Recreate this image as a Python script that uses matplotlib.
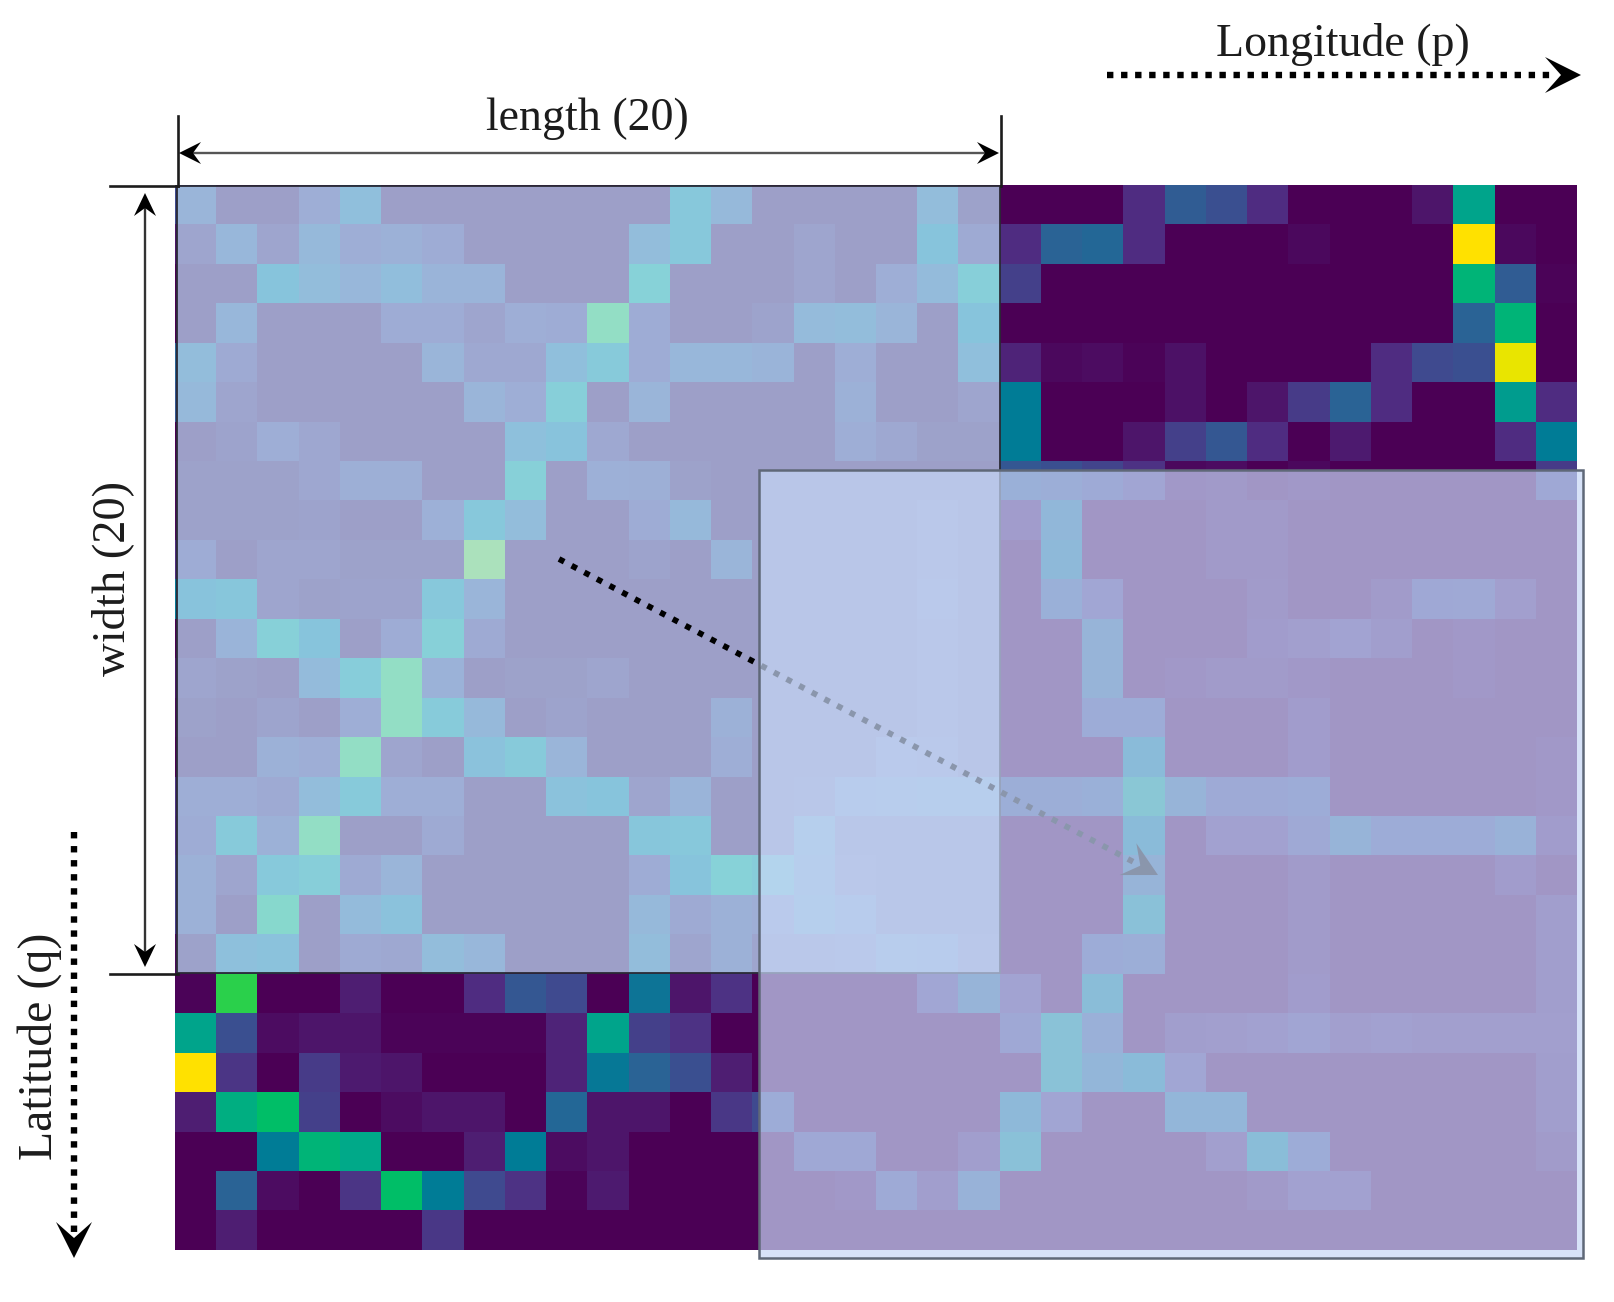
"""
plot.py
-------
Sliding window over a longitude / latitude heatmap, with two translucent panels.
"""

import numpy as np
import matplotlib
matplotlib.use("Agg")
import matplotlib.pyplot as plt
from matplotlib.colors import LinearSegmentedColormap
from matplotlib.patches import Polygon, Rectangle

# cell values in percent of the colour scale, one list per latitude row
heat_rows = [
    [20, 0, 0, 12, 33, 0, 0, 0, 0, 0, 0, 0, 47, 25, 0, 0, 0, 0, 30, 2, 0, 0, 0, 10, 27, 22, 10, 0, 0, 0, 5, 62, 0, 0],
    [5, 22, 5, 25, 12, 15, 10, 0, 0, 0, 0, 30, 47, 0, 0, 5, 0, 0, 42, 8, 10, 30, 32, 10, 0, 0, 0, 2, 0, 0, 0, 100, 2, 0],
    [0, 0, 42, 30, 22, 32, 18, 18, 0, 0, 0, 65, 0, 0, 0, 5, 0, 12, 28, 58, 17, 0, 0, 0, 0, 0, 0, 0, 0, 0, 0, 72, 27, 1],
    [0, 22, 0, 0, 0, 10, 10, 5, 12, 10, 80, 10, 0, 0, 3, 27, 30, 20, 0, 42, 0, 0, 0, 0, 0, 0, 0, 0, 0, 0, 0, 30, 72, 0],
    [30, 8, 0, 0, 0, 0, 20, 7, 7, 33, 50, 10, 22, 22, 18, 0, 12, 0, 0, 33, 8, 2, 3, 1, 4, 0, 0, 0, 0, 10, 20, 22, 95, 0],
    [25, 5, 0, 0, 0, 0, 0, 20, 12, 60, 0, 20, 0, 0, 0, 0, 15, 0, 0, 5, 42, 0, 0, 0, 4, 0, 5, 15, 30, 10, 0, 0, 57, 10],
    [0, 3, 12, 6, 0, 0, 0, 0, 35, 40, 7, 0, 0, 0, 0, 0, 12, 7, 2, 2, 42, 0, 0, 5, 17, 25, 10, 0, 6, 0, 0, 0, 10, 42],
    [2, 2, 2, 6, 13, 13, 0, 0, 62, 0, 14, 13, 2, 0, 0, 0, 0, 0, 0, 0, 25, 22, 18, 12, 2, 3, 0, 2, 0, 0, 0, 0, 0, 15],
    [2, 2, 2, 3, 0, 0, 14, 47, 30, 0, 0, 10, 25, 0, 0, 0, 0, 0, 5, 0, 5, 35, 0, 0, 0, 3, 3, 0, 0, 0, 0, 0, 0, 0],
    [10, 0, 5, 5, 2, 2, 2, 85, 0, 0, 0, 3, 0, 20, 0, 0, 0, 0, 6, 0, 0, 38, 0, 0, 0, 3, 3, 0, 0, 0, 0, 0, 0, 0],
    [40, 45, 5, 2, 3, 3, 47, 20, 0, 0, 0, 0, 0, 0, 0, 0, 0, 0, 8, 0, 0, 25, 13, 0, 0, 0, 4, 0, 0, 4, 15, 17, 7, 0],
    [0, 18, 62, 42, 0, 10, 62, 8, 0, 0, 0, 0, 0, 0, 0, 0, 0, 0, 6, 0, 0, 0, 30, 0, 0, 0, 5, 7, 10, 6, 0, 2, 0, 0],
    [5, 2, 0, 28, 55, 80, 17, 0, 2, 2, 5, 0, 0, 0, 0, 0, 0, 0, 6, 0, 0, 0, 30, 0, 2, 4, 4, 2, 0, 0, 0, 2, 0, 0],
    [2, 0, 4, 0, 12, 80, 52, 25, 0, 3, 0, 0, 0, 15, 0, 0, 0, 0, 5, 0, 0, 0, 20, 20, 0, 0, 0, 5, 0, 0, 0, 0, 0, 0],
    [0, 0, 15, 12, 80, 5, 0, 38, 50, 20, 0, 0, 0, 12, 0, 0, 0, 10, 8, 0, 0, 0, 0, 42, 0, 0, 0, 5, 0, 0, 0, 0, 0, 2],
    [12, 12, 8, 30, 50, 12, 12, 0, 0, 38, 42, 5, 18, 0, 0, 3, 20, 22, 25, 27, 22, 22, 25, 62, 30, 18, 18, 20, 0, 0, 0, 0, 0, 2],
    [10, 50, 15, 80, 0, 0, 8, 0, 0, 0, 0, 45, 47, 0, 0, 30, 4, 3, 3, 3, 0, 0, 0, 42, 0, 8, 8, 17, 30, 20, 20, 20, 27, 5],
    [15, 5, 48, 57, 8, 20, 0, 0, 0, 0, 0, 10, 42, 65, 55, 25, 5, 3, 3, 3, 0, 0, 0, 30, 0, 0, 0, 4, 0, 0, 0, 0, 5, 0],
    [15, 0, 75, 0, 28, 38, 0, 0, 0, 0, 0, 25, 8, 15, 12, 30, 20, 3, 3, 3, 0, 0, 0, 50, 0, 0, 0, 4, 0, 0, 0, 0, 0, 6],
    [2, 35, 38, 0, 8, 7, 30, 22, 0, 0, 0, 30, 5, 15, 5, 5, 8, 22, 20, 5, 0, 0, 20, 22, 0, 0, 0, 4, 0, 0, 0, 0, 0, 6],
    [1, 80, 0, 0, 7, 0, 0, 10, 25, 20, 0, 38, 5, 12, 0, 0, 0, 0, 13, 30, 10, 0, 45, 0, 0, 0, 0, 5, 0, 0, 0, 0, 0, 6],
    [62, 22, 3, 5, 5, 1, 1, 1, 1, 8, 62, 17, 12, 0, 0, 0, 0, 0, 0, 0, 15, 52, 25, 0, 6, 7, 8, 12, 7, 8, 7, 7, 7, 7],
    [100, 13, 0, 15, 6, 5, 0, 0, 0, 8, 40, 30, 22, 7, 0, 0, 0, 0, 0, 0, 0, 52, 33, 42, 13, 0, 0, 0, 0, 0, 0, 0, 0, 6],
    [7, 68, 75, 17, 0, 3, 5, 5, 0, 32, 5, 5, 0, 14, 20, 0, 0, 0, 0, 0, 38, 12, 0, 0, 33, 33, 0, 0, 0, 0, 0, 0, 0, 6],
    [0, 0, 42, 72, 65, 0, 0, 7, 42, 3, 5, 0, 0, 0, 0, 15, 15, 0, 0, 6, 50, 0, 0, 0, 0, 7, 45, 20, 0, 0, 0, 0, 0, 4],
    [0, 30, 3, 0, 13, 75, 42, 20, 12, 1, 6, 0, 0, 0, 0, 0, 2, 18, 6, 28, 0, 0, 0, 0, 0, 0, 3, 8, 8, 0, 0, 0, 0, 0],
    [0, 7, 0, 0, 0, 0, 14, 0, 0, 0, 0, 0, 0, 0, 0, 0, 0, 0, 0, 0, 0, 0, 0, 0, 0, 0, 0, 0, 0, 0, 0, 0, 0, 0],
]

label_length = "length (20)"
label_width = "width (20)"
label_longitude = "Longitude (p)"
label_latitude = "Latitude (q)"

# viridis as it came out in the (print-converted) source figure
scale_stops = [0, 0.1, 0.2, 0.3, 0.42, 0.55, 0.65, 0.72, 0.78, 0.82, 0.95, 1.0]
scale_colors = ["#4b0055", "#502d82", "#3f4a8f", "#2a6496", "#007d96", "#009a90",
                "#00a98a", "#00b478", "#00c85a", "#55d83c", "#e8e600", "#ffe100"]

INK = "#1c1c1c"
DOT = (0, (1, 1.2))


def stealth_head(ax, tip, start, length, half, notch, zorder):
    """Filled arrow head pointing from start to tip, pixel units."""
    tip = np.array(tip, float)
    d = tip - np.array(start, float)
    d /= np.hypot(*d)
    n = np.array([-d[1], d[0]])
    pts = [tip, tip - d * length + n * half, tip - d * notch, tip - d * length - n * half]
    ax.add_patch(Polygon(pts, closed=True, fc="black", ec="none", zorder=zorder))


plt.rcParams["font.family"] = ["Liberation Serif", "DejaVu Serif"]

fig = plt.figure(figsize=(16.14, 13.02), dpi=100, facecolor="white")
ax = fig.add_axes([0, 0, 1, 1])
ax.axis("off")

# ── heatmap ────────────────────────────────────────────────────────────────
cmap = LinearSegmentedColormap.from_list("print_viridis", list(zip(scale_stops, scale_colors)))
ax.imshow(np.array(heat_rows), cmap=cmap, vmin=0, vmax=100, aspect="auto",
          interpolation="nearest", extent=(175, 1577, 1250, 185), zorder=1)
ax.set_xlim(0, 1614)
ax.set_ylim(1302, 0)

# ── first window + dotted move arrow, second window goes over the arrow ─────
ax.add_patch(Rectangle((177, 186), 823, 787, fc="#c1e4fa", alpha=0.7, ec="none", zorder=2))
ax.add_patch(Rectangle((177, 186), 823, 787, fc="none", ec="#2a2a35", lw=1.3, zorder=2.1))

ax.plot([559, 1145], [559, 868], color="black", lw=4.2, ls=(0, (1, 1.45)), zorder=3)
stealth_head(ax, (1158, 875), (559, 559), 34, 18, 20, 3)

ax.add_patch(Rectangle((759, 470), 824, 788, fc="#c6d7f6", alpha=0.7, ec="none", zorder=4))
ax.add_patch(Rectangle((759, 470), 824, 788, fc="none", ec="#5f6878", lw=1.8, zorder=4.1))

# ── dimension lines ────────────────────────────────────────────────────────
for y in (186, 974):
    ax.plot([110, 178], [y, y], color=INK, lw=1.9, zorder=5)
ax.plot([178, 178], [116, 186], color=INK, lw=1.9, zorder=5)
ax.plot([1001, 1001], [116, 186], color=INK, lw=1.9, zorder=5)

ax.plot([190, 990], [153, 153], color="#555555", lw=1.7, zorder=5)
stealth_head(ax, (179, 153), (400, 153), 22, 11, 14, 5)
stealth_head(ax, (999, 153), (800, 153), 22, 11, 14, 5)

ax.plot([145, 145], [205, 955], color="#333333", lw=1.7, zorder=5)
stealth_head(ax, (145, 193), (145, 400), 23, 11, 15, 5)
stealth_head(ax, (145, 967), (145, 800), 23, 11, 15, 5)

# ── axis direction arrows ──────────────────────────────────────────────────
ax.plot([1107, 1555], [75, 75], color="black", lw=4.6, ls=DOT, zorder=5)
stealth_head(ax, (1581, 75), (1107, 75), 36, 18, 20, 5)
ax.plot([74, 74], [832, 1235], color="black", lw=4.6, ls=DOT, zorder=5)
stealth_head(ax, (74, 1258), (74, 832), 36, 18, 20, 5)

# ── labels ─────────────────────────────────────────────────────────────────
ax.text(587, 119, label_length, fontsize=33, color=INK, ha="center", va="center", zorder=6)
ax.text(113, 578, label_width, fontsize=33.5, color=INK, ha="center", va="center", rotation=90, zorder=6)
ax.text(1343, 44, label_longitude, fontsize=33, color=INK, ha="center", va="center", zorder=6)
ax.text(40, 1046, label_latitude, fontsize=34.5, color=INK, ha="center", va="center", rotation=90, zorder=6)

fig.savefig("out.png", dpi=100)
plt.close(fig)
